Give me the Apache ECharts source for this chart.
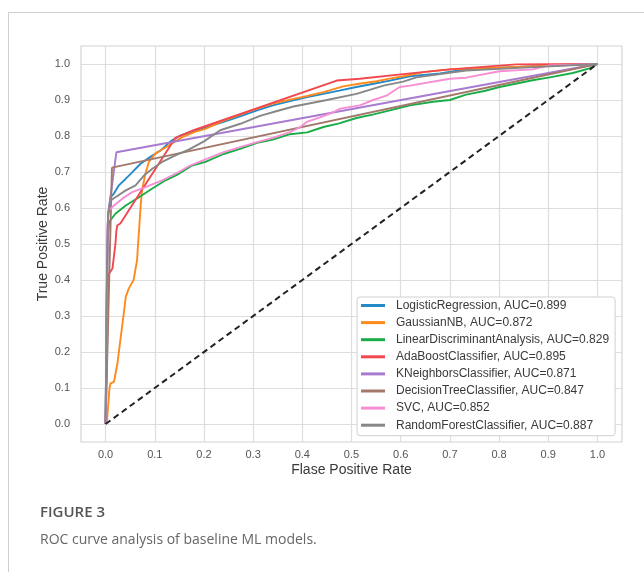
<!DOCTYPE html>
<html>
<head>
<meta charset="utf-8">
<script src="https://cdn.jsdelivr.net/npm/echarts@6/dist/echarts.min.js"></script>
<style>
  html, body { margin: 0; padding: 0; background: #fff; }
  #frame { position: absolute; left: 8px; top: 12px; width: 636px; height: 560px;
           border-left: 1px solid #cfcfcf; border-top: 1px solid #cfcfcf; box-sizing: border-box; }
  #chart { position: absolute; left: 0; top: 0; width: 644px; height: 572px; }
</style>
</head>
<body>
<div id="frame"></div>
<div id="chart"></div>
<script>
// ---- data (fpr, tpr) ----
const modelNames = [
  'LogisticRegression, AUC=0.899',
  'GaussianNB, AUC=0.872',
  'LinearDiscriminantAnalysis, AUC=0.829',
  'AdaBoostClassifier, AUC=0.895',
  'KNeighborsClassifier, AUC=0.871',
  'DecisionTreeClassifier, AUC=0.847',
  'SVC, AUC=0.852',
  'RandomForestClassifier, AUC=0.887'
];
const tickValues = [0, 0.1, 0.2, 0.3, 0.4, 0.5, 0.6, 0.7, 0.8, 0.9, 1.0];

const lrRoc = [[0,0],[0.003,0.45],[0.005,0.58],[0.01,0.63],[0.017,0.64],[0.027,0.663],[0.04,0.68],[0.051,0.695],[0.071,0.723],[0.091,0.742],[0.112,0.76],[0.132,0.785],[0.15,0.8],[0.172,0.811],[0.2,0.822],[0.24,0.839],[0.275,0.855],[0.308,0.871],[0.34,0.885],[0.375,0.897],[0.41,0.908],[0.443,0.917],[0.475,0.926],[0.51,0.936],[0.545,0.945],[0.578,0.954],[0.619,0.966],[0.68,0.974],[0.74,0.987],[0.8,0.99],[0.9,0.995],[0.977,1.0],[1,1]];
const gnbRoc = [[0,0],[0.003,0.011],[0.008,0.1],[0.01,0.113],[0.017,0.117],[0.024,0.168],[0.03,0.233],[0.037,0.307],[0.041,0.353],[0.047,0.376],[0.057,0.4],[0.064,0.455],[0.066,0.5],[0.068,0.538],[0.071,0.6],[0.074,0.649],[0.081,0.695],[0.088,0.728],[0.101,0.751],[0.122,0.768],[0.139,0.783],[0.156,0.797],[0.183,0.812],[0.203,0.82],[0.24,0.843],[0.275,0.86],[0.308,0.876],[0.34,0.89],[0.375,0.901],[0.41,0.911],[0.443,0.922],[0.483,0.938],[0.515,0.945],[0.551,0.952],[0.58,0.96],[0.605,0.966],[0.65,0.978],[0.7,0.985],[0.8,0.99],[0.9,0.995],[1,1]];
const ldaRoc = [[0,0],[0.002,0.3],[0.004,0.5],[0.007,0.561],[0.02,0.584],[0.041,0.607],[0.068,0.63],[0.095,0.654],[0.122,0.677],[0.149,0.695],[0.176,0.718],[0.203,0.728],[0.24,0.75],[0.275,0.765],[0.308,0.781],[0.34,0.79],[0.375,0.805],[0.41,0.81],[0.443,0.825],[0.475,0.835],[0.51,0.85],[0.545,0.86],[0.578,0.871],[0.619,0.885],[0.666,0.895],[0.7,0.9],[0.733,0.915],[0.77,0.925],[0.801,0.936],[0.868,0.955],[0.903,0.963],[0.95,0.975],[0.984,0.988],[1,1]];
const adaRoc = [[0,0],[0.003,0.2],[0.005,0.413],[0.014,0.432],[0.017,0.436],[0.02,0.5],[0.022,0.538],[0.024,0.552],[0.03,0.557],[0.142,0.795],[0.179,0.816],[0.47,0.954],[0.517,0.959],[0.605,0.972],[0.7,0.985],[0.835,0.999],[1,1]];
const knnRoc = [[0,0],[0.005,0.58],[0.022,0.755],[1,1]];
const treeRoc = [[0,0],[0.013,0.712],[1,1]];
const svcRoc = [[0,0],[0.002,0.3],[0.004,0.55],[0.007,0.594],[0.017,0.607],[0.034,0.626],[0.054,0.644],[0.081,0.658],[0.115,0.677],[0.149,0.7],[0.172,0.718],[0.203,0.735],[0.24,0.755],[0.275,0.77],[0.308,0.783],[0.34,0.795],[0.375,0.811],[0.396,0.825],[0.409,0.839],[0.436,0.852],[0.463,0.866],[0.477,0.876],[0.517,0.885],[0.544,0.9],[0.571,0.912],[0.598,0.936],[0.619,0.94],[0.7,0.959],[0.733,0.962],[0.801,0.98],[0.868,0.985],[0.903,0.996],[1,1]];
const rfRoc = [[0,0],[0.003,0.45],[0.005,0.58],[0.01,0.621],[0.02,0.63],[0.041,0.649],[0.061,0.663],[0.078,0.69],[0.095,0.709],[0.115,0.728],[0.142,0.746],[0.169,0.762],[0.2,0.785],[0.233,0.816],[0.274,0.834],[0.314,0.856],[0.345,0.868],[0.382,0.882],[0.45,0.9],[0.51,0.917],[0.565,0.94],[0.605,0.951],[0.632,0.963],[0.733,0.982],[0.85,0.99],[1,1]];
const chanceLine = [[0,0],[1,1]];

const modelData = [lrRoc, gnbRoc, ldaRoc, adaRoc, knnRoc, treeRoc, svcRoc, rfRoc];
const modelColors = ['#2389c9', '#ff8a1c', '#19ad47', '#f2474f', '#a87bd0', '#a3786a', '#f58ed2', '#878787'];

const chart = echarts.init(document.getElementById('chart'), null, { renderer: 'canvas' });

const series = modelNames.map((n, i) => ({
  name: n,
  type: 'line',
  data: modelData[i],
  showSymbol: false,
  symbol: 'none',
  lineStyle: { width: 1.9, color: modelColors[i] },
  itemStyle: { color: modelColors[i] },
  animation: false,
  z: 2 + i
}));
series.push({
  name: 'chance',
  type: 'line',
  data: chanceLine,
  showSymbol: false,
  symbol: 'none',
  lineStyle: { width: 2, color: '#222', type: [6, 4] },
  animation: false,
  z: 20
});

const axisCommon = {
  type: 'value',
  min: -0.05,
  max: 1.05,
  axisLine: { show: false },
  axisTick: { show: false, customValues: tickValues },
  splitLine: { show: true, lineStyle: { color: '#dedede', width: 1.2 } },
  nameLocation: 'middle',
  nameMoveOverlap: false,
  nameTextStyle: { color: '#3a3a3a', fontSize: 14, fontFamily: 'Liberation Sans' }
};

chart.setOption({
  animation: false,
  backgroundColor: 'transparent',
  grid: { left: 81, right: 22, top: 46, bottom: 130, show: true, borderColor: '#d4d4d4', borderWidth: 1.2, backgroundColor: 'transparent' },
  xAxis: Object.assign({}, axisCommon, {
    name: 'Flase Positive Rate',
    nameGap: 21,
    axisLabel: { customValues: tickValues, formatter: v => v.toFixed(1), color: '#555', fontSize: 11, margin: 7, fontFamily: 'Liberation Sans' }
  }),
  yAxis: Object.assign({}, axisCommon, {
    name: 'True Positive Rate',
    nameGap: 31,
    axisLabel: { customValues: tickValues, formatter: v => v.toFixed(1), color: '#555', fontSize: 11, margin: 11, fontFamily: 'Liberation Sans' }
  }),
  legend: {
    data: modelNames,
    orient: 'vertical',
    left: 357,
    top: 297,
    backgroundColor: '#fff',
    borderColor: '#d0d0d0',
    borderWidth: 1,
    borderRadius: 3,
    padding: [2, 6, 4, 4],
    itemGap: 4.1,
    itemWidth: 24,
    itemHeight: 3,
    icon: 'rect',
    selectedMode: false,
    textStyle: { color: '#3a3a3a', fontSize: 12, lineHeight: 13, fontFamily: 'Liberation Sans', padding: [0, 0, 0, 6] },
    z: 30
  },
  graphic: [
    { type: 'text', left: 40, top: 505, style: { text: 'FIGURE 3', font: '600 15px "Open Sans"', fill: '#555' } },
    { type: 'text', left: 40, top: 533, style: { text: 'ROC curve analysis of baseline ML models.', font: '14px "Open Sans"', fill: '#666' } }
  ],
  series: series
});
</script>
</body>
</html>
